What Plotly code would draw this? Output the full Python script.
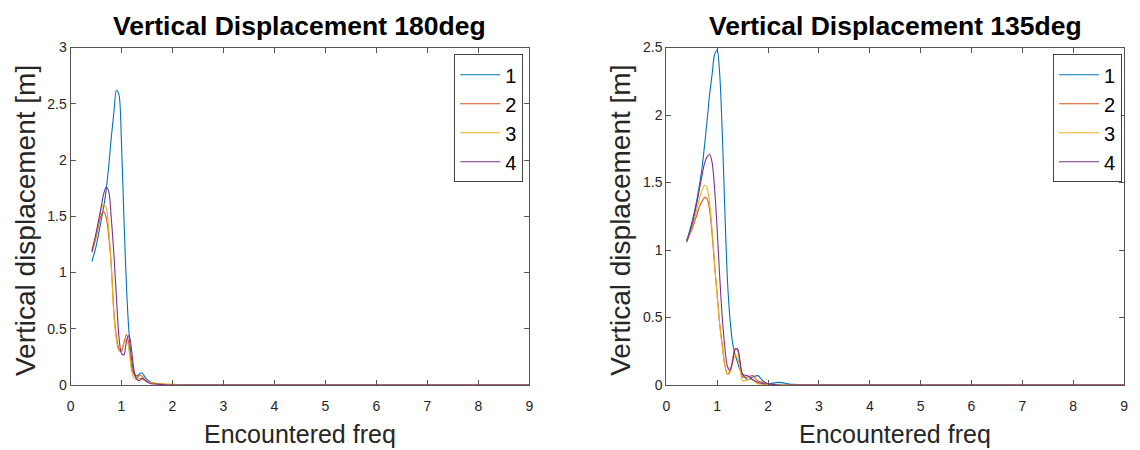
import plotly.graph_objects as go

# ---------------- data ----------------
freq_180 = [0.42, 0.5, 0.6, 0.65, 0.7, 0.75, 0.8, 0.85, 0.9, 0.95, 1.0, 1.05, 1.1, 1.15, 1.2,
            1.25, 1.3, 1.35, 1.4, 1.45, 1.5, 1.6, 1.7, 1.8, 1.9, 2.0, 2.2, 2.5, 3, 4, 5, 6, 7, 8, 9]
disp180_1 = [1.10, 1.23, 1.46, 1.58, 1.74, 1.95, 2.20, 2.42, 2.62, 2.58, 2.15, 1.45, 0.85, 0.45, 0.22,
             0.10, 0.08, 0.10, 0.11, 0.08, 0.05, 0.02, 0.01, 0.005, 0.003, 0, 0, 0, 0, 0, 0, 0, 0, 0, 0]
disp180_2 = [1.18, 1.31, 1.51, 1.54, 1.49, 1.32, 1.06, 0.66, 0.43, 0.32, 0.30, 0.38, 0.45, 0.35, 0.16,
             0.09, 0.06, 0.09, 0.08, 0.05, 0.03, 0.02, 0.01, 0.01, 0.005, 0, 0, 0, 0, 0, 0, 0, 0, 0, 0]
disp180_3 = [1.20, 1.33, 1.56, 1.61, 1.58, 1.38, 1.05, 0.62, 0.40, 0.30, 0.32, 0.38, 0.40, 0.30, 0.12,
             0.06, 0.05, 0.06, 0.05, 0.04, 0.03, 0.02, 0.015, 0.01, 0.01, 0.01, 0, 0, 0, 0, 0, 0, 0, 0, 0]
disp180_4 = [1.19, 1.35, 1.58, 1.70, 1.76, 1.72, 1.48, 1.17, 0.78, 0.43, 0.28, 0.27, 0.40, 0.44, 0.30,
             0.12, 0.05, 0.04, 0.06, 0.05, 0.03, 0.01, 0.01, 0.005, 0, 0, 0, 0, 0, 0, 0, 0, 0, 0, 0]

freq_135 = [0.4, 0.5, 0.6, 0.65, 0.7, 0.75, 0.8, 0.85, 0.9, 0.95, 1.0, 1.05, 1.1, 1.15, 1.2,
            1.25, 1.3, 1.35, 1.4, 1.45, 1.5, 1.6, 1.7, 1.8, 1.9, 2.0, 2.2, 2.5, 3, 4, 5, 6, 7, 8, 9]
disp135_1 = [1.07, 1.20, 1.37, 1.48, 1.60, 1.77, 1.95, 2.15, 2.30, 2.45, 2.48, 2.30, 1.87, 1.30, 0.79,
             0.50, 0.32, 0.23, 0.17, 0.11, 0.08, 0.04, 0.06, 0.07, 0.03, 0.01, 0.02, 0.005, 0, 0, 0, 0, 0, 0, 0]
disp135_2 = [1.07, 1.15, 1.26, 1.32, 1.36, 1.39, 1.38, 1.30, 1.12, 0.88, 0.67, 0.45, 0.30, 0.15, 0.08,
             0.10, 0.18, 0.27, 0.26, 0.16, 0.06, 0.06, 0.07, 0.03, 0.02, 0.01, 0, 0, 0, 0, 0, 0, 0, 0, 0]
disp135_3 = [1.06, 1.16, 1.30, 1.38, 1.44, 1.48, 1.46, 1.35, 1.15, 0.90, 0.66, 0.45, 0.28, 0.15, 0.08,
             0.09, 0.16, 0.22, 0.20, 0.12, 0.03, 0.04, 0.04, 0.01, 0.005, 0, 0, 0, 0, 0, 0, 0, 0, 0, 0]
disp135_4 = [1.06, 1.18, 1.35, 1.45, 1.55, 1.64, 1.69, 1.71, 1.65, 1.45, 1.15, 0.80, 0.50, 0.28, 0.14,
             0.11, 0.17, 0.26, 0.27, 0.18, 0.08, 0.07, 0.04, 0.02, 0.01, 0.01, 0, 0, 0, 0, 0, 0, 0, 0, 0]

series_names = ["1", "2", "3", "4"]
colors = ["#0072BD", "#D95319", "#EDB120", "#7E2F8E"]

titles = ["Vertical Displacement 180deg", "Vertical Displacement 135deg"]
x_label = "Encountered freq"
y_label = "Vertical displacement [m]"
x_ticks = [0, 1, 2, 3, 4, 5, 6, 7, 8, 9]
y_ticks_180 = [0, 0.5, 1, 1.5, 2, 2.5, 3]
y_ticks_135 = [0, 0.5, 1, 1.5, 2, 2.5]

# ---------------- figure ----------------
W, H = 1140, 450
FONT = "Liberation Sans, Arial, Helvetica, sans-serif"
AXC = "#555555"
TXT = "#262626"

fig = go.Figure()

left = [disp180_1, disp180_2, disp180_3, disp180_4]
right = [disp135_1, disp135_2, disp135_3, disp135_4]
for i in range(4):
    fig.add_trace(go.Scatter(x=freq_180, y=left[i], mode="lines", name=series_names[i],
                             line=dict(color=colors[i], width=1.1, shape="spline", smoothing=0.8),
                             xaxis="x", yaxis="y", legend="legend"))
for i in range(4):
    fig.add_trace(go.Scatter(x=freq_135, y=right[i], mode="lines", name=series_names[i],
                             line=dict(color=colors[i], width=1.1, shape="spline", smoothing=0.8),
                             xaxis="x2", yaxis="y2", legend="legend2"))

def px(v):
    return v / W

def py(v):
    return 1 - v / H

ydom = [py(391), py(41)]
ax_common = dict(showline=True, linecolor=AXC, linewidth=1, mirror="ticks", ticks="inside",
                 ticklen=5, tickcolor=AXC, showgrid=False, zeroline=False,
                 tickfont=dict(family=FONT, size=14, color=TXT))

leg_common = dict(yanchor="top", xanchor="right", bordercolor="#444444", borderwidth=1,
                  bgcolor="white", font=dict(family=FONT, size=20, color="black"),
                  itemwidth=40, tracegroupgap=0)

fig.update_layout(
    width=W, height=H,
    margin=dict(l=0, r=0, t=0, b=0),
    paper_bgcolor="white", plot_bgcolor="white",
    xaxis=dict(domain=[px(67), px(529)], range=[0, 9], tickvals=x_ticks, anchor="y",
               ticklabelstandoff=8, **ax_common),
    yaxis=dict(domain=ydom, range=[0, 3], tickvals=y_ticks_180, anchor="x", **ax_common),
    xaxis2=dict(domain=[px(667), px(1128)], range=[0, 9], tickvals=x_ticks, anchor="y2",
                ticklabelstandoff=8, **ax_common),
    yaxis2=dict(domain=ydom, range=[0, 2.5], tickvals=y_ticks_135, anchor="x2", **ax_common),
    legend=dict(x=px(523), y=py(48), **leg_common),
    legend2=dict(x=px(1126), y=py(48), **leg_common),
    showlegend=True,
)

annos = []
for cx, t in [((67 + 529) / 2, titles[0]), ((667 + 1128) / 2, titles[1])]:
    annos.append(dict(text="<b>" + t + "</b>", x=px(cx), y=py(19), xref="paper", yref="paper",
                      xanchor="center", yanchor="middle", showarrow=False,
                      font=dict(family=FONT, size=26.5, color="black")))
    annos.append(dict(text=x_label, x=px(cx), y=py(442), xref="paper", yref="paper",
                      xanchor="center", yanchor="middle", showarrow=False,
                      font=dict(family=FONT, size=25, color=TXT)))
for cx in [21, 621]:
    annos.append(dict(text=y_label, x=px(cx), y=py(220), xref="paper", yref="paper",
                      xanchor="center", yanchor="middle", showarrow=False, textangle=-90,
                      font=dict(family=FONT, size=28, color=TXT)))
fig.update_layout(annotations=annos)

fig.write_html("out.html")
